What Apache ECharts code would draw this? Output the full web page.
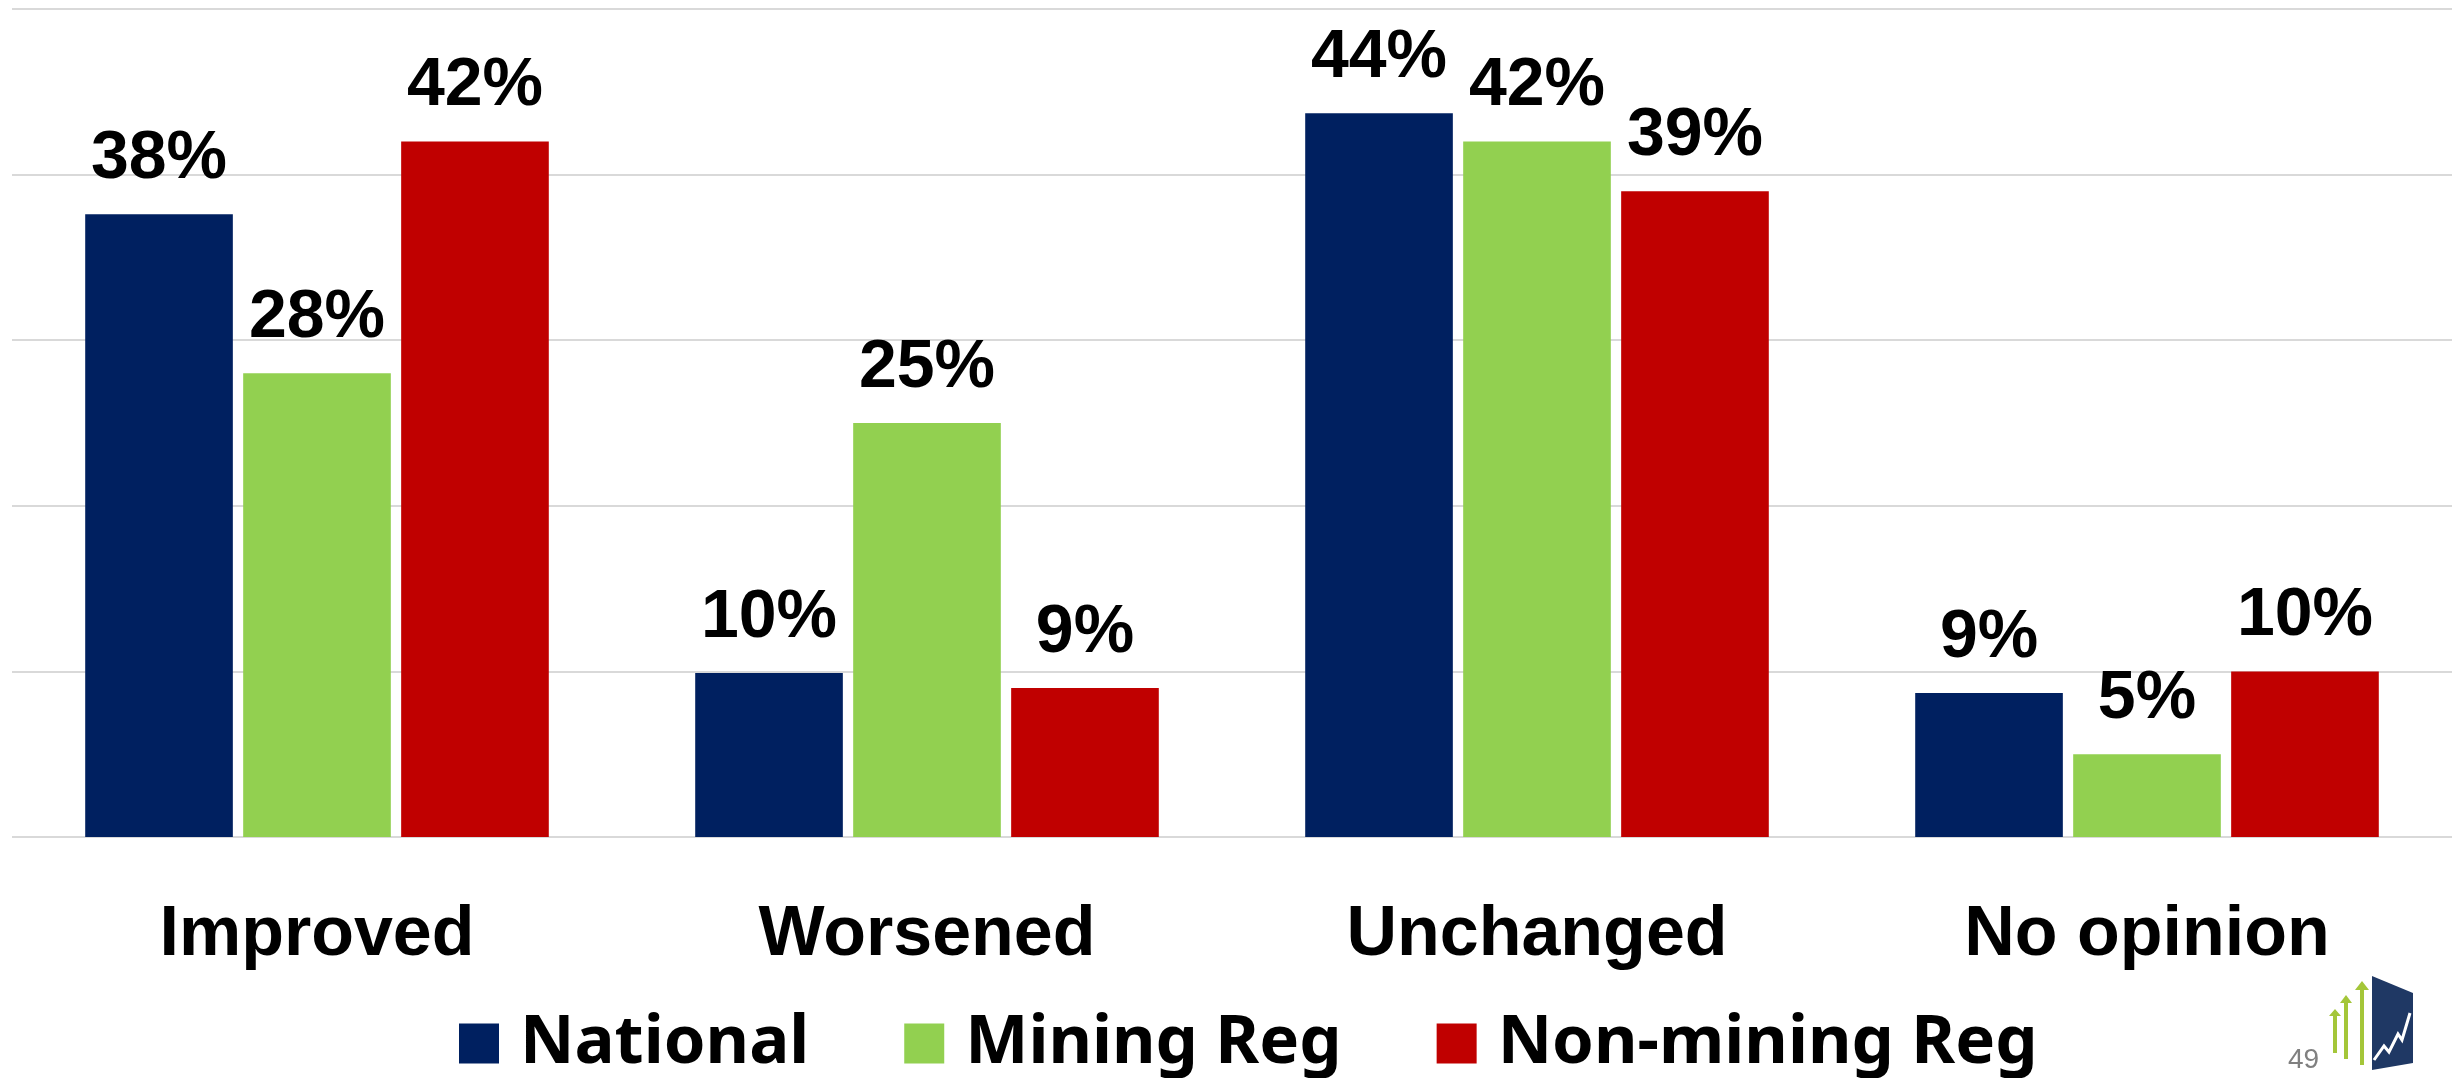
<!DOCTYPE html>
<html>
<head>
<meta charset="utf-8">
<script src="https://cdn.jsdelivr.net/npm/echarts@6/dist/echarts.min.js"></script>
<style>
html,body{margin:0;padding:0;background:#fff;}
#chart{width:2455px;height:1078px;}
</style>
</head>
<body>
<div id="chart"></div>
<script>
const categories = ['Improved', 'Worsened', 'Unchanged', 'No opinion'];
const seriesNames = ['National', 'Mining Reg', 'Non-mining Reg'];
const national = [37.6, 9.9, 43.7, 8.7];
const miningReg = [28, 25, 42, 5];
const nonMiningReg = [42, 9, 39, 10];
const yTicks = [0, 10, 20, 30, 40, 50];
const colors = ['#002060', '#92D050', '#C00000'];
const pageNumber = '49';

const FONT = '"Liberation Sans", Arial, sans-serif';
const LEGEND_FONT = '"Noto Sans", "Open Sans", sans-serif';
const chart = echarts.init(document.getElementById('chart'), null, {renderer: 'canvas'});

const labelOpt = {
  show: true,
  position: 'top',
  distance: 21,
  formatter: p => Math.round(p.value) + '%',
  fontFamily: FONT,
  fontWeight: 'bold',
  fontSize: 68,
  color: '#000'
};

function mkSeries(name, data, color) {
  return {
    name: name,
    type: 'bar',
    data: data,
    itemStyle: {color: color},
    barGap: '7%',
    barCategoryGap: '24%',
    label: labelOpt,
    emphasis: {disabled: true}
  };
}

chart.setOption({
  animation: false,
  backgroundColor: '#fff',
  color: colors,
  grid: {left: 12, right: 3, top: 9, bottom: 241, containLabel: false},
  xAxis: {
    type: 'category',
    data: categories,
    axisLine: {show: false},
    axisTick: {show: false},
    axisLabel: {
      margin: 64,
      fontFamily: FONT,
      fontWeight: 'bold',
      fontSize: 70,
      color: '#000'
    }
  },
  yAxis: {
    type: 'value',
    min: yTicks[0],
    max: yTicks[yTicks.length - 1],
    interval: yTicks[1] - yTicks[0],
    axisLabel: {show: false},
    axisLine: {show: false},
    axisTick: {show: false},
    splitLine: {lineStyle: {color: '#D9D9D9', width: 2}}
  },
  legend: {
    data: seriesNames,
    top: 1010,
    left: 459,
    padding: 0,
    itemWidth: 40,
    itemHeight: 40,
    itemGap: 95,
    icon: 'rect',
    textStyle: {
      fontFamily: LEGEND_FONT,
      fontWeight: 'bold',
      fontSize: 67,
      color: '#000',
      padding: [0, 0, 0, 16]
    }
  },
  series: [
    mkSeries(seriesNames[0], national, colors[0]),
    mkSeries(seriesNames[1], miningReg, colors[1]),
    mkSeries(seriesNames[2], nonMiningReg, colors[2])
  ],
  graphic: [
    {type: 'text', left: 2288, top: 1046, style: {text: pageNumber, fontFamily: FONT, fontSize: 28, fill: '#808080'}},
    {type: 'polygon', shape: {points: [[2372, 976], [2413, 993], [2413, 1063], [2372, 1070]]}, style: {fill: '#1F3864'}},
    {type: 'polyline', shape: {points: [[2374, 1060], [2384, 1046], [2389, 1052], [2398, 1034], [2402, 1040], [2410, 1013]]}, style: {stroke: '#fff', lineWidth: 3, fill: null}},
    {type: 'polygon', shape: {points: [[2333, 1053], [2333, 1016], [2329, 1016], [2335, 1009], [2341, 1016], [2337, 1016], [2337, 1053]]}, style: {fill: '#A4C639'}},
    {type: 'polygon', shape: {points: [[2344, 1059], [2344, 1003], [2340, 1003], [2346, 995], [2352, 1003], [2348, 1003], [2348, 1059]]}, style: {fill: '#A4C639'}},
    {type: 'polygon', shape: {points: [[2360, 1065], [2360, 990], [2355, 990], [2362, 981], [2369, 990], [2364, 990], [2364, 1065]]}, style: {fill: '#A4C639'}}
  ]
});
</script>
</body>
</html>
